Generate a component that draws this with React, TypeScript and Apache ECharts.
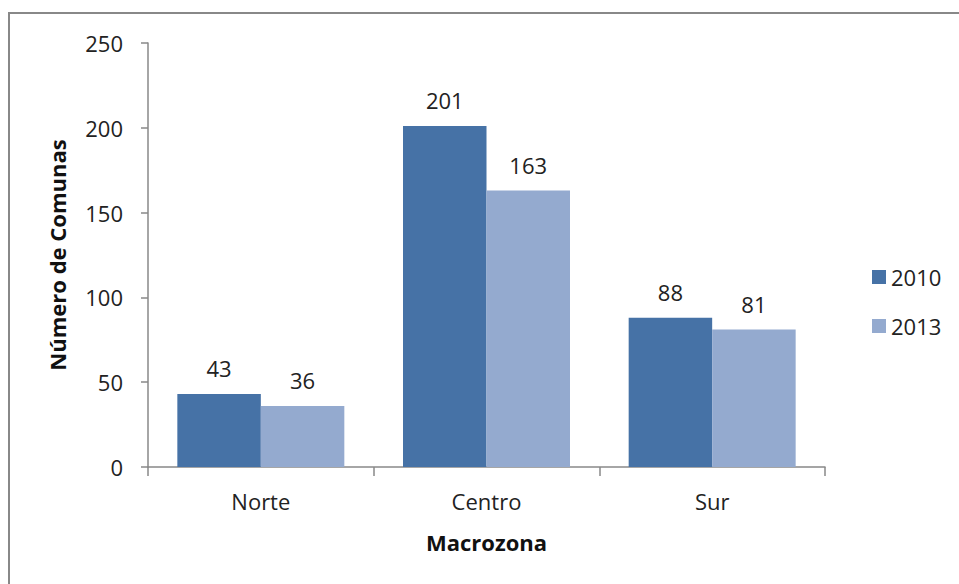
import React, { useEffect, useRef } from "react";
import * as echarts from "echarts";

const categories = ["Norte", "Centro", "Sur"];
const values2010 = [43, 201, 88];
const values2013 = [36, 163, 81];
const seriesNames = ["2010", "2013"];
const yTicks = { min: 0, max: 250, interval: 50 };

const FONT = "'Open Sans', 'Noto Sans', sans-serif";

export default function App() {
  const ref = useRef<HTMLDivElement>(null);
  useEffect(() => {
    if (!ref.current) return;
    const chart = echarts.init(ref.current, null, { renderer: "svg" });
    const labelStyle = {
      show: true,
      position: "top" as const,
      distance: 15,
      fontSize: 22,
      color: "#222",
      fontFamily: FONT,
    };
    chart.setOption({
      animation: false,
      backgroundColor: "#fff",
      textStyle: { fontFamily: FONT },
      grid: { left: 148, right: 134, top: 43, bottom: 117 },
      legend: {
        orient: "vertical",
        left: 867,
        top: 261,
        itemWidth: 14,
        itemHeight: 14,
        itemGap: 27,
        icon: "rect",
        textStyle: { fontSize: 22, color: "#222", fontFamily: FONT, lineHeight: 22 },
        data: seriesNames,
      },
      xAxis: {
        type: "category",
        data: categories,
        name: "Macrozona",
        nameLocation: "middle",
        nameGap: 64,
        nameTextStyle: { fontSize: 22, fontWeight: "bold", color: "#111", fontFamily: FONT },
        axisLine: { lineStyle: { color: "#888", width: 1.5 } },
        axisTick: { show: true, length: 9, lineStyle: { color: "#888", width: 1.5 } },
        axisLabel: { fontSize: 22, color: "#222", margin: 23, fontFamily: FONT },
      },
      yAxis: {
        type: "value",
        min: yTicks.min,
        max: yTicks.max,
        interval: yTicks.interval,
        name: "Número de Comunas",
        nameLocation: "middle",
        nameGap: 80,
        nameTextStyle: { fontSize: 22, fontWeight: "bold", color: "#111", fontFamily: FONT },
        axisLine: { show: true, lineStyle: { color: "#888", width: 1.5 } },
        axisTick: { show: true, length: 7, lineStyle: { color: "#888", width: 1.5 } },
        axisLabel: { fontSize: 22, color: "#222", margin: 25, fontFamily: FONT },
        splitLine: { show: false },
      },
      series: [
        {
          name: seriesNames[0],
          type: "bar",
          data: values2010,
          itemStyle: { color: "#4672A6" },
          barGap: "0%",
          barCategoryGap: "26%",
          label: labelStyle,
        },
        {
          name: seriesNames[1],
          type: "bar",
          data: values2013,
          itemStyle: { color: "#94AACF" },
          barGap: "0%",
          barCategoryGap: "26%",
          label: labelStyle,
        },
      ],
      graphic: [
        { type: "line", shape: { x1: 8, y1: 13, x2: 959, y2: 13 }, style: { stroke: "#888", lineWidth: 2 } },
        { type: "line", shape: { x1: 9, y1: 12, x2: 9, y2: 584 }, style: { stroke: "#888", lineWidth: 2 } },
      ],
    });
    return () => chart.dispose();
  }, []);
  return (
    <div
      ref={ref}
      style={{ position: "fixed", left: 0, top: 0, width: 959, height: 584 }}
    />
  );
}
